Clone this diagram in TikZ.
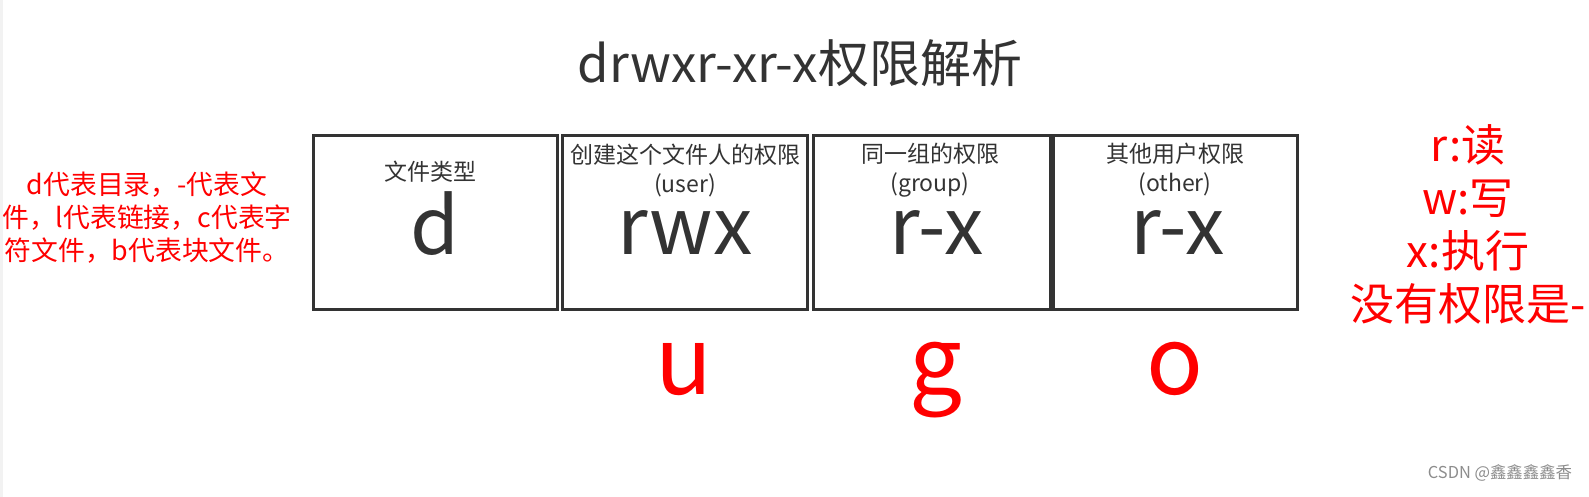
\documentclass[tikz,border=0pt]{standalone}
\usepackage{fontspec}
\setmainfont{Noto Sans CJK SC}
\usetikzlibrary{positioning}
\definecolor{inkgray}{HTML}{333333}

\begin{document}
\begin{tikzpicture}[
      x=0.5pt,y=-0.5pt,
      cell/.style={draw=inkgray,line width=1.5pt,minimum height=87pt,inner sep=0pt},
      head/.style={text=inkgray,align=center,inner sep=0pt,font=\fontsize{11.5}{14.5}\selectfont},
      perm/.style={text=inkgray,anchor=base,inner sep=0pt,font=\fontsize{39.5}{39.5}\selectfont},
      who/.style={text=red,anchor=base,font=\fontsize{47}{47}\selectfont},
      note/.style={text=red,align=center}
    ]
      \useasboundingbox (0,0) rectangle (1589,497);
      \fill[black!5] (0,0) rectangle (3,497);
      \node[text=inkgray,font=\fontsize{25.5}{25.5}\selectfont] (title) at (800,63) {drwxr-xr-x权限解析};
      % the four fields
      \node[cell,minimum width=122pt] (ftype) at (435.5,222.5) {};
      \node[cell,minimum width=122.5pt] (user) at (685,222.5) {};
      \node[cell,minimum width=118.5pt] (group) at (932,222.5) {};
      \node[cell,minimum width=122pt] (other) at (1175.5,222.5) {};
      \node[head] (ftypehead) at (430,172) {文件类型};
      \node[head] (userhead) at (685,171) {创建这个文件人的权限\\(user)};
      \node[head] (grouphead) at (930,170) {同一组的权限\\(group)};
      \node[head] (otherhead) at (1175,170) {其他用户权限\\(other)};
      \node[perm] (d) at (435,255) {d};
      \node[perm] (rwx) at (685,255) {rwx};
      \node[perm] (rx1) at (937,255) {r-x};
      \node[perm] (rx2) at (1178,255) {r-x};
      \node[who] (u) at (684,394) {u};
      \node[who] (g) at (936,394) {g};
      \node[who] (o) at (1175,394) {o};
      % notes
      \node[note,font=\fontsize{13.4}{16.5}\selectfont] (typenote) at (147,218) {d代表目录，-代表文\\件，l代表链接，c代表字\\符文件，b代表块文件。};
      \node[note,font=\fontsize{22}{26.5}\selectfont] (permnote) at (1468,224) {r:读\\w:写\\x:执行\\没有权限是-};
      \node[text=black!45,font=\fontsize{8.2}{8.2}\selectfont] (mark) at (1500,473) {CSDN @鑫鑫鑫鑫香};
    \end{tikzpicture}
\end{document}
